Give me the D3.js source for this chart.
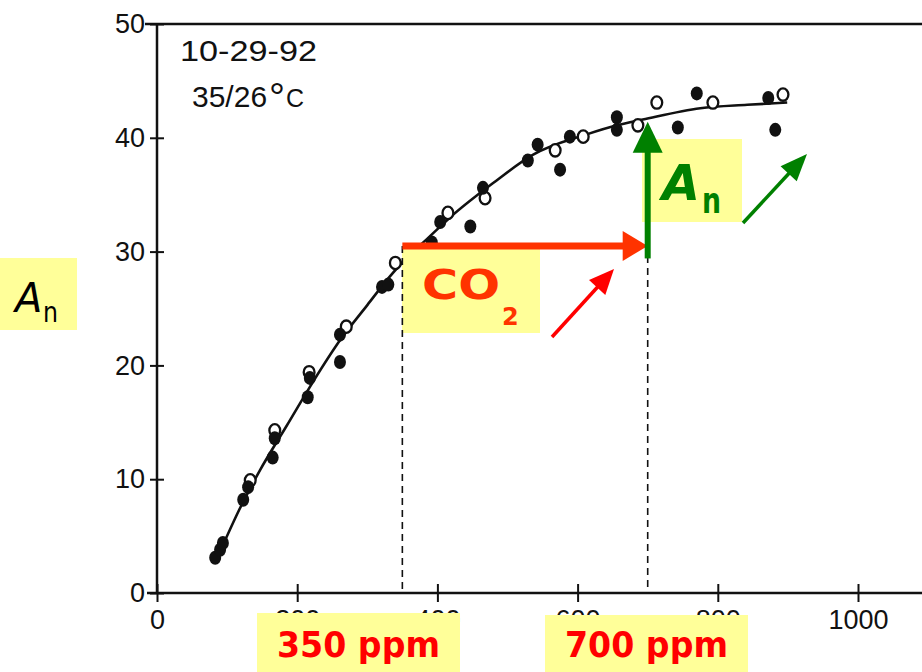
<!DOCTYPE html>
<html>
<head>
<meta charset="utf-8">
<script src="https://cdn.jsdelivr.net/npm/d3@7"></script>
<style>
  body { margin: 0; background: #fff; }
  svg { display: block; }
</style>
</head>
<body>
<svg id="chart" width="922" height="672"></svg>
<script>
// Net photosynthesis (An) against CO2 concentration (ppm)
const xTicks = [0, 200, 400, 600, 800, 1000];
const yTicks = [0, 10, 20, 30, 40, 50];

// closed symbols: [CO2 ppm, An]
const closedPts = [
  [83, 3.1], [90, 3.8], [94, 4.4], [123, 8.2], [130, 9.3], [165, 11.9], [168, 13.6],
  [215, 17.2], [218, 18.9], [261, 20.3], [261, 22.7], [321, 26.9], [330, 27.1],
  [392, 30.8], [404, 32.6], [447, 32.2], [465, 35.6], [529, 38.0], [543, 39.4],
  [575, 37.2], [589, 40.1], [656, 41.8], [656, 40.7], [743, 40.9], [770, 43.9],
  [872, 43.5], [882, 40.7]
];
// open symbols: [CO2 ppm, An]
const openPts = [
  [133, 9.9], [168, 14.3], [217, 19.4], [270, 23.4], [340, 29.0], [415, 33.4],
  [468, 34.7], [568, 38.9], [608, 40.1], [686, 41.1], [713, 43.1], [793, 43.1],
  [893, 43.8]
];
// fitted response curve
const fitCurve = [
  [94, 4.2], [118, 7.4], [147, 10.8], [185, 14.7], [223, 18.6], [261, 22.2],
  [300, 25.3], [332, 27.8], [360, 29.7], [385, 31.1], [418, 33.0], [479, 36.0],
  [536, 38.5], [613, 40.3], [656, 41.1], [693, 41.6], [775, 42.6], [842, 42.9],
  [899, 43.1]
];

const ambientCO2 = 350;
const elevatedCO2 = 700;
const arrowLevel = 30.5;   // An level of the CO2 arrow
const anTop = 41.4;        // tip of the An arrow
const dateLabel = "10-29-92";
const tempLabel = "35/26";

const svg = d3.select("#chart");
const x = d3.scaleLinear().domain([0, 1000]).range([157, 858]);
const y = d3.scaleLinear().domain([0, 50]).range([593, 24]);

const axisFont = "'Liberation Sans', Arial, sans-serif";
const ink = "#111";

// frame lines
const frame = svg.append("g").attr("stroke", ink).attr("stroke-width", 2.5);
frame.append("line").attr("x1", x(0)).attr("x2", x(0)).attr("y1", y(50) - 1).attr("y2", y(0) + 1);
frame.append("line").attr("x1", x(0) - 10).attr("x2", 922).attr("y1", y(0)).attr("y2", y(0));
frame.append("line").attr("x1", x(0) - 12).attr("x2", 922).attr("y1", y(50)).attr("y2", y(50));

// y axis
const yAxis = svg.append("g")
  .attr("transform", `translate(${x(0)},0)`)
  .call(d3.axisLeft(y).tickValues(yTicks).tickSize(7).tickSizeOuter(0).tickPadding(5));
yAxis.select(".domain").remove();
yAxis.selectAll(".tick line").attr("x1", 7).attr("stroke", ink).attr("stroke-width", 2);
yAxis.selectAll(".tick text")
  .style("font-family", axisFont).style("font-size", "27px").attr("fill", ink);

// x axis
const xAxis = svg.append("g")
  .attr("transform", `translate(0,${y(0)})`)
  .call(d3.axisBottom(x).tickValues(xTicks).tickFormat(d3.format("d"))
    .tickSize(9).tickSizeOuter(0).tickPadding(8));
xAxis.select(".domain").remove();
xAxis.selectAll(".tick line").attr("y1", -9).attr("stroke", ink).attr("stroke-width", 2);
xAxis.selectAll(".tick text")
  .style("font-family", axisFont).style("font-size", "27px").attr("fill", ink);

// date / temperature note
svg.append("text")
  .attr("x", 180).attr("y", 61)
  .attr("textLength", 137).attr("lengthAdjust", "spacingAndGlyphs")
  .style("font-family", axisFont).style("font-size", "30px").attr("fill", ink)
  .text(dateLabel);
const tnote = svg.append("text")
  .attr("x", 192).attr("y", 107)
  .style("font-family", axisFont).style("font-size", "30px").attr("fill", ink);
tnote.append("tspan").text(tempLabel);
tnote.append("tspan").attr("dx", 2).style("font-size", "40px").attr("dy", 4).text("°");
tnote.append("tspan").attr("dx", 1).style("font-size", "25px").attr("dy", -4).text("C");

// fitted curve
svg.append("path")
  .datum(fitCurve)
  .attr("fill", "none").attr("stroke", ink).attr("stroke-width", 2.6)
  .attr("d", d3.line().x(d => x(d[0])).y(d => y(d[1])).curve(d3.curveMonotoneX));

// symbols
svg.append("g").selectAll("ellipse").data(openPts).join("ellipse")
  .attr("cx", d => x(d[0])).attr("cy", d => y(d[1]))
  .attr("rx", 5.4).attr("ry", 6.2)
  .attr("fill", "#fff").attr("stroke", ink).attr("stroke-width", 2.3);
svg.append("g").selectAll("ellipse").data(closedPts).join("ellipse")
  .attr("cx", d => x(d[0])).attr("cy", d => y(d[1]))
  .attr("rx", 6).attr("ry", 7)
  .attr("fill", ink);

// highlight boxes
const yellow = "#FFFF99";
const boxes = [
  { x: 0, y: 258, w: 77, h: 72 },
  { x: 402, y: 249, w: 138, h: 84 },
  { x: 642, y: 139, w: 100, h: 83 },
  { x: 257, y: 613, w: 203, h: 59 },
  { x: 545, y: 615, w: 203, h: 57 }
];
svg.append("g").selectAll("rect").data(boxes).join("rect")
  .attr("x", d => d.x).attr("y", d => d.y).attr("width", d => d.w).attr("height", d => d.h)
  .attr("fill", yellow);

// reference CO2 levels
const dash = svg.append("g").attr("stroke", ink).attr("stroke-width", 1.6).attr("stroke-dasharray", "7,5");
dash.append("line").attr("x1", x(ambientCO2)).attr("x2", x(ambientCO2)).attr("y1", y(arrowLevel)).attr("y2", y(0));
dash.append("line").attr("x1", x(elevatedCO2)).attr("x2", x(elevatedCO2)).attr("y1", y(37)).attr("y2", y(0));

// arrows
function arrow(x1, y1, x2, y2, color, width, headLen, headW) {
  const a = Math.atan2(y2 - y1, x2 - x1);
  const bx = x2 - headLen * Math.cos(a), by = y2 - headLen * Math.sin(a);
  const px = -Math.sin(a) * headW / 2, py = Math.cos(a) * headW / 2;
  svg.append("line").attr("x1", x1).attr("y1", y1).attr("x2", bx + Math.cos(a)).attr("y2", by + Math.sin(a))
    .attr("stroke", color).attr("stroke-width", width);
  svg.append("polygon")
    .attr("points", `${x2},${y2} ${bx + px},${by + py} ${bx - px},${by - py}`)
    .attr("fill", color);
}
const green = "#008000";
arrow(x(ambientCO2), y(arrowLevel), x(elevatedCO2), y(arrowLevel), "#FF3300", 7, 25, 30);
arrow(x(elevatedCO2), y(29.4), x(elevatedCO2), y(anTop), green, 6, 31, 30);
arrow(552, 337, 614, 269, "#FF0000", 3.5, 25, 22);
arrow(743, 223, 807, 154, green, 3.5, 27, 22);

// labels
const labelFont = "'DejaVu Sans', Verdana, sans-serif";
const leftAn = svg.append("text").style("font-family", labelFont).attr("fill", "#000");
leftAn.append("tspan").attr("x", 15).attr("y", 312).style("font-size", "40px").style("font-style", "italic").text("A");
leftAn.append("tspan").attr("x", 43).attr("y", 322).style("font-size", "28px")
  .attr("textLength", 15).attr("lengthAdjust", "spacingAndGlyphs").text("n");

const co2 = svg.append("text").style("font-family", labelFont).style("font-weight", "bold").attr("fill", "#FF3300");
co2.append("tspan").attr("x", 422).attr("y", 299).style("font-size", "41px")
  .attr("textLength", 78).attr("lengthAdjust", "spacingAndGlyphs").text("CO");
co2.append("tspan").attr("x", 502).attr("y", 325).style("font-size", "24px").text("2");

const greenAn = svg.append("text").style("font-family", labelFont).style("font-weight", "bold").attr("fill", green);
greenAn.append("tspan").attr("x", 662).attr("y", 200).style("font-size", "50px").style("font-style", "italic")
  .attr("textLength", 38).attr("lengthAdjust", "spacingAndGlyphs").text("A");
greenAn.append("tspan").attr("x", 702).attr("y", 213).style("font-size", "36px")
  .attr("textLength", 19).attr("lengthAdjust", "spacingAndGlyphs").text("n");

[[277, ambientCO2], [565, elevatedCO2]].forEach(([lx, v]) => {
  svg.append("text")
    .attr("x", lx).attr("y", 657)
    .attr("textLength", 163).attr("lengthAdjust", "spacingAndGlyphs")
    .style("font-family", labelFont).style("font-weight", "bold").style("font-size", "36px")
    .attr("fill", "#FF0000")
    .text(`${v} ppm`);
});
</script>
</body>
</html>
